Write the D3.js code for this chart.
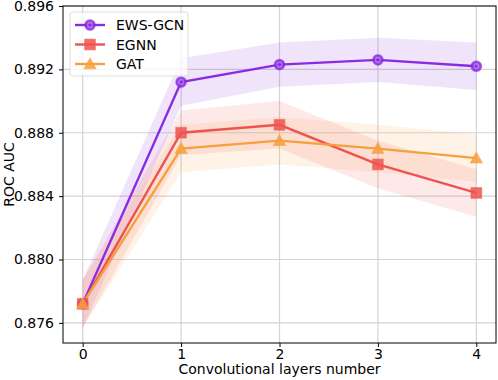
<!DOCTYPE html>
<html>
<head>
<meta charset="utf-8">
<script src="https://cdn.jsdelivr.net/npm/d3@7"></script>
<style>
  body { margin: 0; background: #fff; }
  svg { font-family: 'DejaVu Sans', sans-serif; }
</style>
</head>
<body>
<svg width="498" height="380"></svg>
<script>
// chart data
const layers = [0, 1, 2, 3, 4];
const ewsGcn = [0.8772, 0.8912, 0.8923, 0.8926, 0.8922];
const ewsGcnStd = [0.0015, 0.0015, 0.0014, 0.0014, 0.0015];
const egnn = [0.8772, 0.8880, 0.8885, 0.8860, 0.8842];
const egnnStd = [0.0015, 0.0014, 0.0015, 0.0015, 0.0015];
const gat = [0.8772, 0.8870, 0.8875, 0.8870, 0.8864];
const gatStd = [0.0015, 0.0015, 0.0015, 0.0015, 0.0015];
const yTicks = [0.876, 0.880, 0.884, 0.888, 0.892, 0.896];

const series = [
  { name: 'EWS-GCN', values: ewsGcn, std: ewsGcnStd, color: '#8a2be2', marker: 'circle' },
  { name: 'EGNN', values: egnn, std: egnnStd, color: '#ef5350', marker: 'square' },
  { name: 'GAT', values: gat, std: gatStd, color: '#f5a03c', marker: 'triangle' }
];

const svg = d3.select('svg');
const width = +svg.attr('width');
const height = +svg.attr('height');
const margin = { top: 6, right: 2, bottom: 37, left: 63 };
const innerWidth = width - margin.left - margin.right;
const innerHeight = height - margin.top - margin.bottom;

const g = svg.append('g').attr('transform', `translate(${margin.left},${margin.top})`);

const x = d3.scaleLinear().domain([-0.2, 4.2]).range([0, innerWidth]);
const y = d3.scaleLinear().domain([0.87473, 0.896]).range([innerHeight, 0]);

// grid
g.append('g').selectAll('line').data(layers).enter().append('line')
  .attr('x1', d => x(d)).attr('x2', d => x(d)).attr('y1', 0).attr('y2', innerHeight)
  .attr('stroke', '#d4d4d4').attr('stroke-width', 1.2);
g.append('g').selectAll('line').data(yTicks).enter().append('line')
  .attr('x1', 0).attr('x2', innerWidth).attr('y1', d => y(d)).attr('y2', d => y(d))
  .attr('stroke', '#d4d4d4').attr('stroke-width', 1.2);

// bands
const area = s => d3.area()
  .x((d, i) => x(layers[i]))
  .y0((d, i) => y(d - s.std[i]))
  .y1((d, i) => y(d + s.std[i]));

series.forEach(s => {
  g.append('path').datum(s.values)
    .attr('d', area(s))
    .attr('fill', s.color).attr('fill-opacity', 0.13);
});

// lines
const line = d3.line().x((d, i) => x(layers[i])).y(d => y(d));
series.forEach(s => {
  g.append('path').datum(s.values)
    .attr('d', line)
    .attr('fill', 'none').attr('stroke', s.color).attr('stroke-width', 2.4);
});

function drawMarker(sel, type, color, cx, cy) {
  let m;
  if (type === 'circle') {
    m = sel.append('circle').attr('cx', cx).attr('cy', cy).attr('r', 5.3);
  } else if (type === 'square') {
    m = sel.append('rect').attr('x', cx - 5.3).attr('y', cy - 5.3).attr('width', 10.6).attr('height', 10.6);
  } else {
    const r = 6;
    m = sel.append('path').attr('d', `M${cx},${cy - r}L${cx + r},${cy + r * 0.8}L${cx - r},${cy + r * 0.8}Z`);
  }
  m.attr('fill', color).attr('fill-opacity', 0.85)
    .attr('stroke', color).attr('stroke-opacity', 0.5).attr('stroke-width', 1.2);
  if (type === 'circle') {
    sel.append('circle').attr('cx', cx).attr('cy', cy).attr('r', 2.4)
      .attr('fill', 'none').attr('stroke', '#c9a0f0').attr('stroke-width', 0.8);
  }
}

series.forEach(s => {
  const mg = g.append('g');
  s.values.forEach((v, i) => drawMarker(mg, s.marker, s.color, x(layers[i]), y(v)));
});

// axes
const xAxis = g.append('g').attr('transform', `translate(0,${innerHeight})`)
  .call(d3.axisBottom(x).tickValues(layers).tickFormat(d3.format('d')).tickSize(4).tickPadding(2));
const yAxis = g.append('g')
  .call(d3.axisLeft(y).tickValues(yTicks).tickFormat(d3.format('.3f')).tickSize(4).tickPadding(5));
[xAxis, yAxis].forEach(a => {
  a.select('.domain').remove();
  a.selectAll('text').attr('font-size', 14).attr('fill', '#000').attr('font-family', 'DejaVu Sans');
  a.selectAll('line').attr('stroke', '#000');
});

g.append('rect').attr('width', innerWidth).attr('height', innerHeight)
  .attr('fill', 'none').attr('stroke', '#000').attr('stroke-width', 1);

svg.append('text').attr('x', margin.left + innerWidth / 2).attr('y', 374)
  .attr('text-anchor', 'middle').attr('font-size', 14).text('Convolutional layers number');
svg.append('text').attr('transform', `translate(14,${margin.top + innerHeight / 2}) rotate(-90)`)
  .attr('text-anchor', 'middle').attr('font-size', 14).text('ROC AUC');

// legend
const lg = svg.append('g').attr('transform', 'translate(70,12)');
lg.append('rect').attr('width', 118).attr('height', 64).attr('rx', 3)
  .attr('fill', '#fff').attr('fill-opacity', 0.8).attr('stroke', '#ddd');
series.forEach((s, i) => {
  const yy = 13 + i * 19.5;
  lg.append('line').attr('x1', 5).attr('x2', 35).attr('y1', yy).attr('y2', yy)
    .attr('stroke', s.color).attr('stroke-width', 2.4);
  drawMarker(lg, s.marker, s.color, 20, yy);
  lg.append('text').attr('x', 46).attr('y', yy + 5).attr('font-size', 14).text(s.name);
});
</script>
</body>
</html>
